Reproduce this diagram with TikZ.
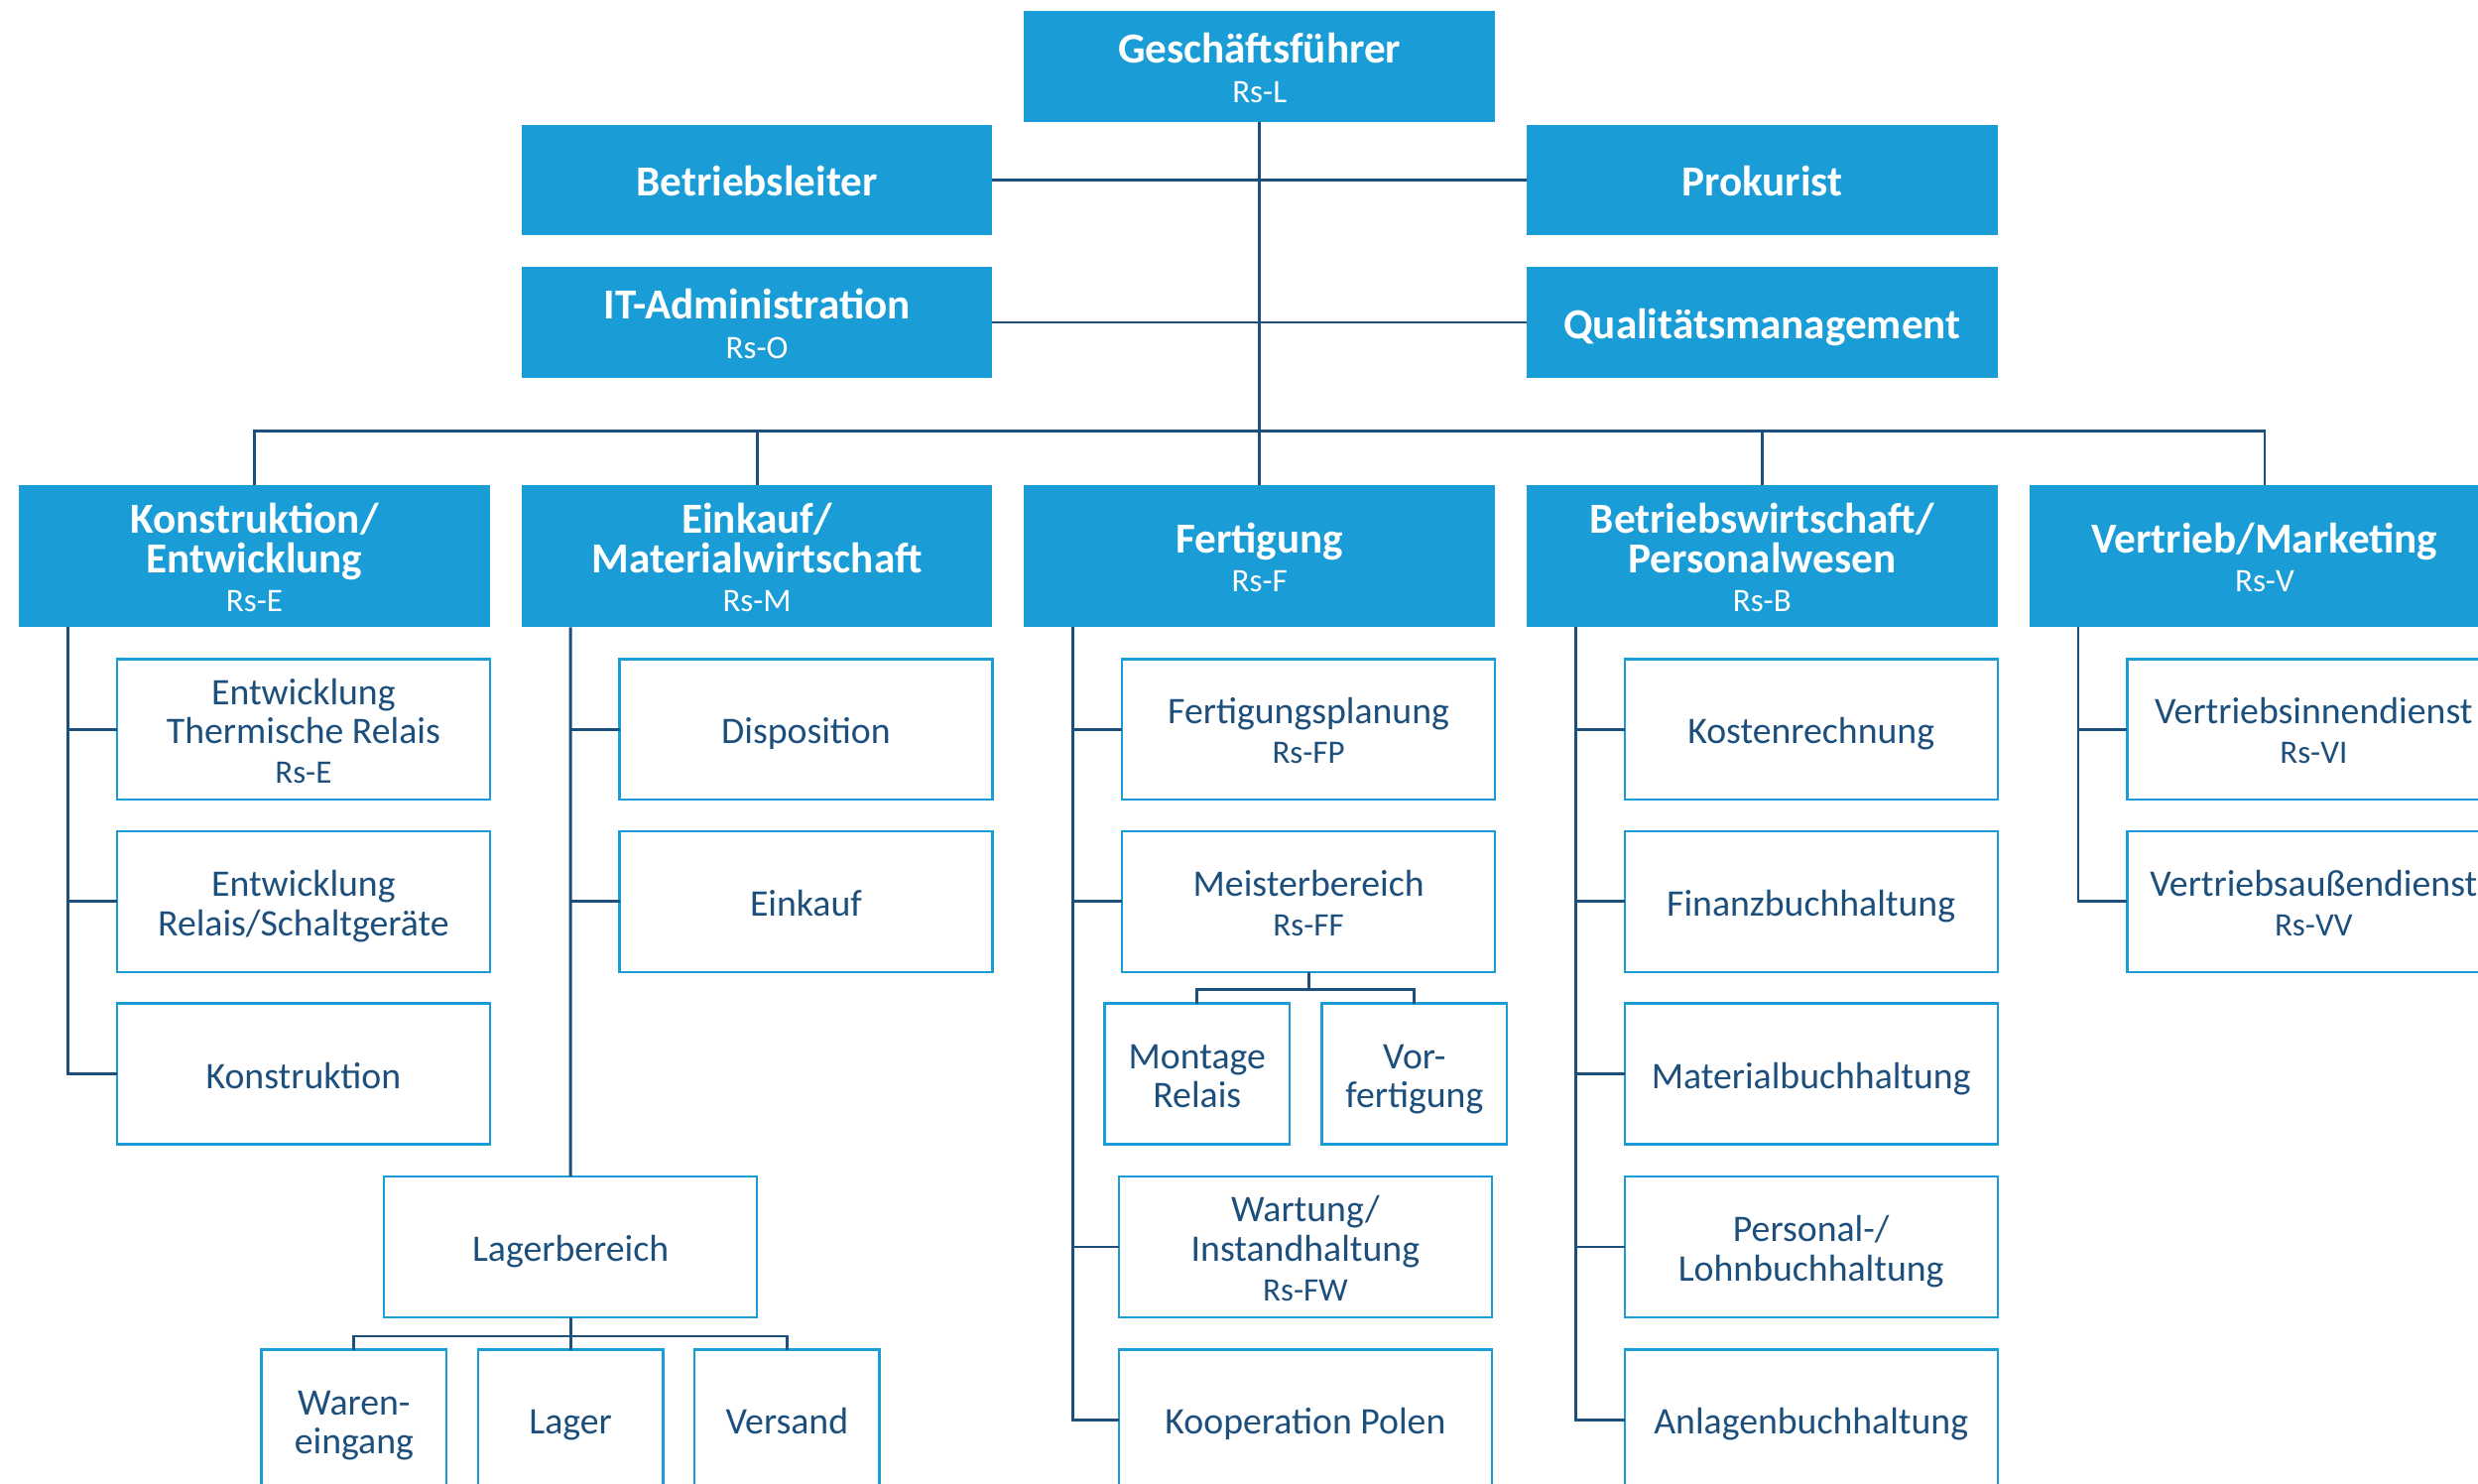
\documentclass[tikz,border=0pt]{standalone}
\usepackage{fontspec}
\setmainfont{Carlito}
\definecolor{cblue}{HTML}{1A9DD6}
\definecolor{cnavy}{HTML}{1D4F7C}
\lineskiplimit=-30bp
\newcommand\rsline[1]{\\{\fontsize{20.8}{22}\selectfont\mdseries #1}}
\newcommand\topstrut[1]{\leavevmode\vrule width 0pt height #1 depth 0pt\relax}
\newcommand\botstrut[1]{\vrule width 0pt height 0pt depth #1\relax}
\newcommand\hdtxt[1]{\topstrut{26.5bp}#1\botstrut{6bp}}
\newcommand\sbtxt[1]{\topstrut{24bp}#1\botstrut{5.8bp}}
\begin{document}
\begin{tikzpicture}[x=1bp,y=-1bp,
 head/.style={fill=cblue, text=white, minimum width=298bp, inner sep=0pt, outer sep=0pt, align=center,
   font=\fontsize{27.2}{25}\selectfont\bfseries},
 toph/.style={head, minimum height=70bp},
 midh/.style={head, minimum height=90bp},
 subbox/.style={draw=cblue, line width=1.5bp, fill=white, text=cnavy, minimum width=236bp, minimum height=89bp, inner sep=0pt, outer sep=0pt, align=center,
   font=\fontsize{23.8}{25}\selectfont},
 smallbox/.style={subbox, minimum width=117bp},
 conn/.style={draw=cnavy, line width=1.8bp},
]
\path[use as bounding box] (0,0) rectangle (1568,939);
\clip (0,0) rectangle (1568,939);

% top level
\node[toph] (gf) at (797,42) {\hdtxt{Geschäftsführer\rsline{Rs-L}}};
\node[toph] (bl) at (479,114) {\hdtxt{Betriebsleiter}};
\node[toph] (pk) at (1115,114) {\hdtxt{Prokurist}};
\node[toph] (it) at (479,204) {\hdtxt{IT-Administration\rsline{Rs-O}}};
\node[toph] (qm) at (1115,204) {\hdtxt{Qualitätsmanagement}};

% second level
\node[midh] (ke) at (161,352) {\hdtxt{Konstruktion/\\Entwicklung\rsline{Rs-E}}};
\node[midh] (em) at (479,352) {\hdtxt{Einkauf/\\Materialwirtschaft\rsline{Rs-M}}};
\node[midh] (fe) at (797,352) {\hdtxt{Fertigung\rsline{Rs-F}}};
\node[midh] (bp) at (1115,352) {\hdtxt{Betriebswirtschaft/\\Personalwesen\rsline{Rs-B}}};
\node[midh] (vm) at (1433,352) {\hdtxt{Vertrieb/Marketing\rsline{Rs-V}}};

% Konstruktion/Entwicklung
\node[subbox] (k1) at (192,461.5) {\sbtxt{Entwicklung\\Thermische Relais\rsline{Rs-E}}};
\node[subbox] (k2) at (192,570.5) {\sbtxt{Entwicklung\\Relais/Schaltgeräte}};
\node[subbox] (k3) at (192,679.5) {\sbtxt{Konstruktion}};

% Einkauf/Materialwirtschaft
\node[subbox] (e1) at (510,461.5) {\sbtxt{Disposition}};
\node[subbox] (e2) at (510,570.5) {\sbtxt{Einkauf}};
\node[subbox] (lb) at (361,789) {\sbtxt{Lagerbereich}};
\node[smallbox] (we) at (224,898.5) {\sbtxt{Waren-\\eingang}};
\node[smallbox] (la) at (361,898.5) {\sbtxt{Lager}};
\node[smallbox] (vs) at (498,898.5) {\sbtxt{Versand}};

% Fertigung
\node[subbox] (f1) at (828,461.5) {\sbtxt{Fertigungsplanung\rsline{Rs-FP}}};
\node[subbox] (f2) at (828,570.5) {\sbtxt{Meisterbereich\rsline{Rs-FF}}};
\node[smallbox] (mr) at (757.5,679.5) {\sbtxt{Montage\\Relais}};
\node[smallbox] (vf) at (895,679.5) {\sbtxt{Vor-\\fertigung}};
\node[subbox] (f3) at (826,789) {\sbtxt{Wartung/\\Instandhaltung\rsline{Rs-FW}}};
\node[subbox] (f4) at (826,898.5) {\sbtxt{Kooperation Polen}};

% Betriebswirtschaft/Personalwesen
\node[subbox] (b1) at (1146,461.5) {\sbtxt{Kostenrechnung}};
\node[subbox] (b2) at (1146,570.5) {\sbtxt{Finanzbuchhaltung}};
\node[subbox] (b3) at (1146,679.5) {\sbtxt{Materialbuchhaltung}};
\node[subbox] (b4) at (1146,789) {\sbtxt{Personal-/\\Lohnbuchhaltung}};
\node[subbox] (b5) at (1146,898.5) {\sbtxt{Anlagenbuchhaltung}};

% Vertrieb/Marketing
\node[subbox] (v1) at (1464,461.5) {\sbtxt{Vertriebsinnendienst\rsline{Rs-VI}}};
\node[subbox] (v2) at (1464,570.5) {\sbtxt{Vertriebsaußendienst\rsline{Rs-VV}}};

% connectors top
\draw[conn] (gf.south) -- (fe.north);
\draw[conn] (bl.east) -- (pk.west);
\draw[conn] (it.east) -- (qm.west);
\coordinate (bus) at (797,273);
\draw[conn] (ke.north) |- (bus) -| (vm.north);
\draw[conn] (em.north) -- (em.north |- bus);
\draw[conn] (bp.north) -- (bp.north |- bus);

% column lines
\coordinate (kl) at ([xshift=31bp]ke.south west);
\draw[conn] (kl) |- (k3.west);
\draw[conn] (k1.west) -- (k1.west -| kl);
\draw[conn] (k2.west) -- (k2.west -| kl);

\coordinate (el) at ([xshift=31bp]em.south west);
\draw[conn] (el) -- (lb.north);
\draw[conn] (e1.west) -- (e1.west -| el);
\draw[conn] (e2.west) -- (e2.west -| el);
\coordinate (lbb) at ([yshift=-12bp]lb.south);
\draw[conn] (lb.south) -- (la.north);
\draw[conn] (we.north) |- (lbb) -| (vs.north);

\coordinate (fl) at ([xshift=31bp]fe.south west);
\draw[conn] (fl) |- (f4.west);
\draw[conn] (f1.west) -- (f1.west -| fl);
\draw[conn] (f2.west) -- (f2.west -| fl);
\draw[conn] (f3.west) -- (f3.west -| fl);
\coordinate (mbb) at ([yshift=-11bp]f2.south);
\draw[conn] (f2.south) -- (mbb);
\draw[conn] (mr.north) |- (mbb) -| (vf.north);

\coordinate (bl2) at ([xshift=31bp]bp.south west);
\draw[conn] (bl2) |- (b5.west);
\draw[conn] (b1.west) -- (b1.west -| bl2);
\draw[conn] (b2.west) -- (b2.west -| bl2);
\draw[conn] (b3.west) -- (b3.west -| bl2);
\draw[conn] (b4.west) -- (b4.west -| bl2);

\coordinate (vl) at ([xshift=31bp]vm.south west);
\draw[conn] (vl) |- (v2.west);
\draw[conn] (v1.west) -- (v1.west -| vl);
\end{tikzpicture}
\end{document}
